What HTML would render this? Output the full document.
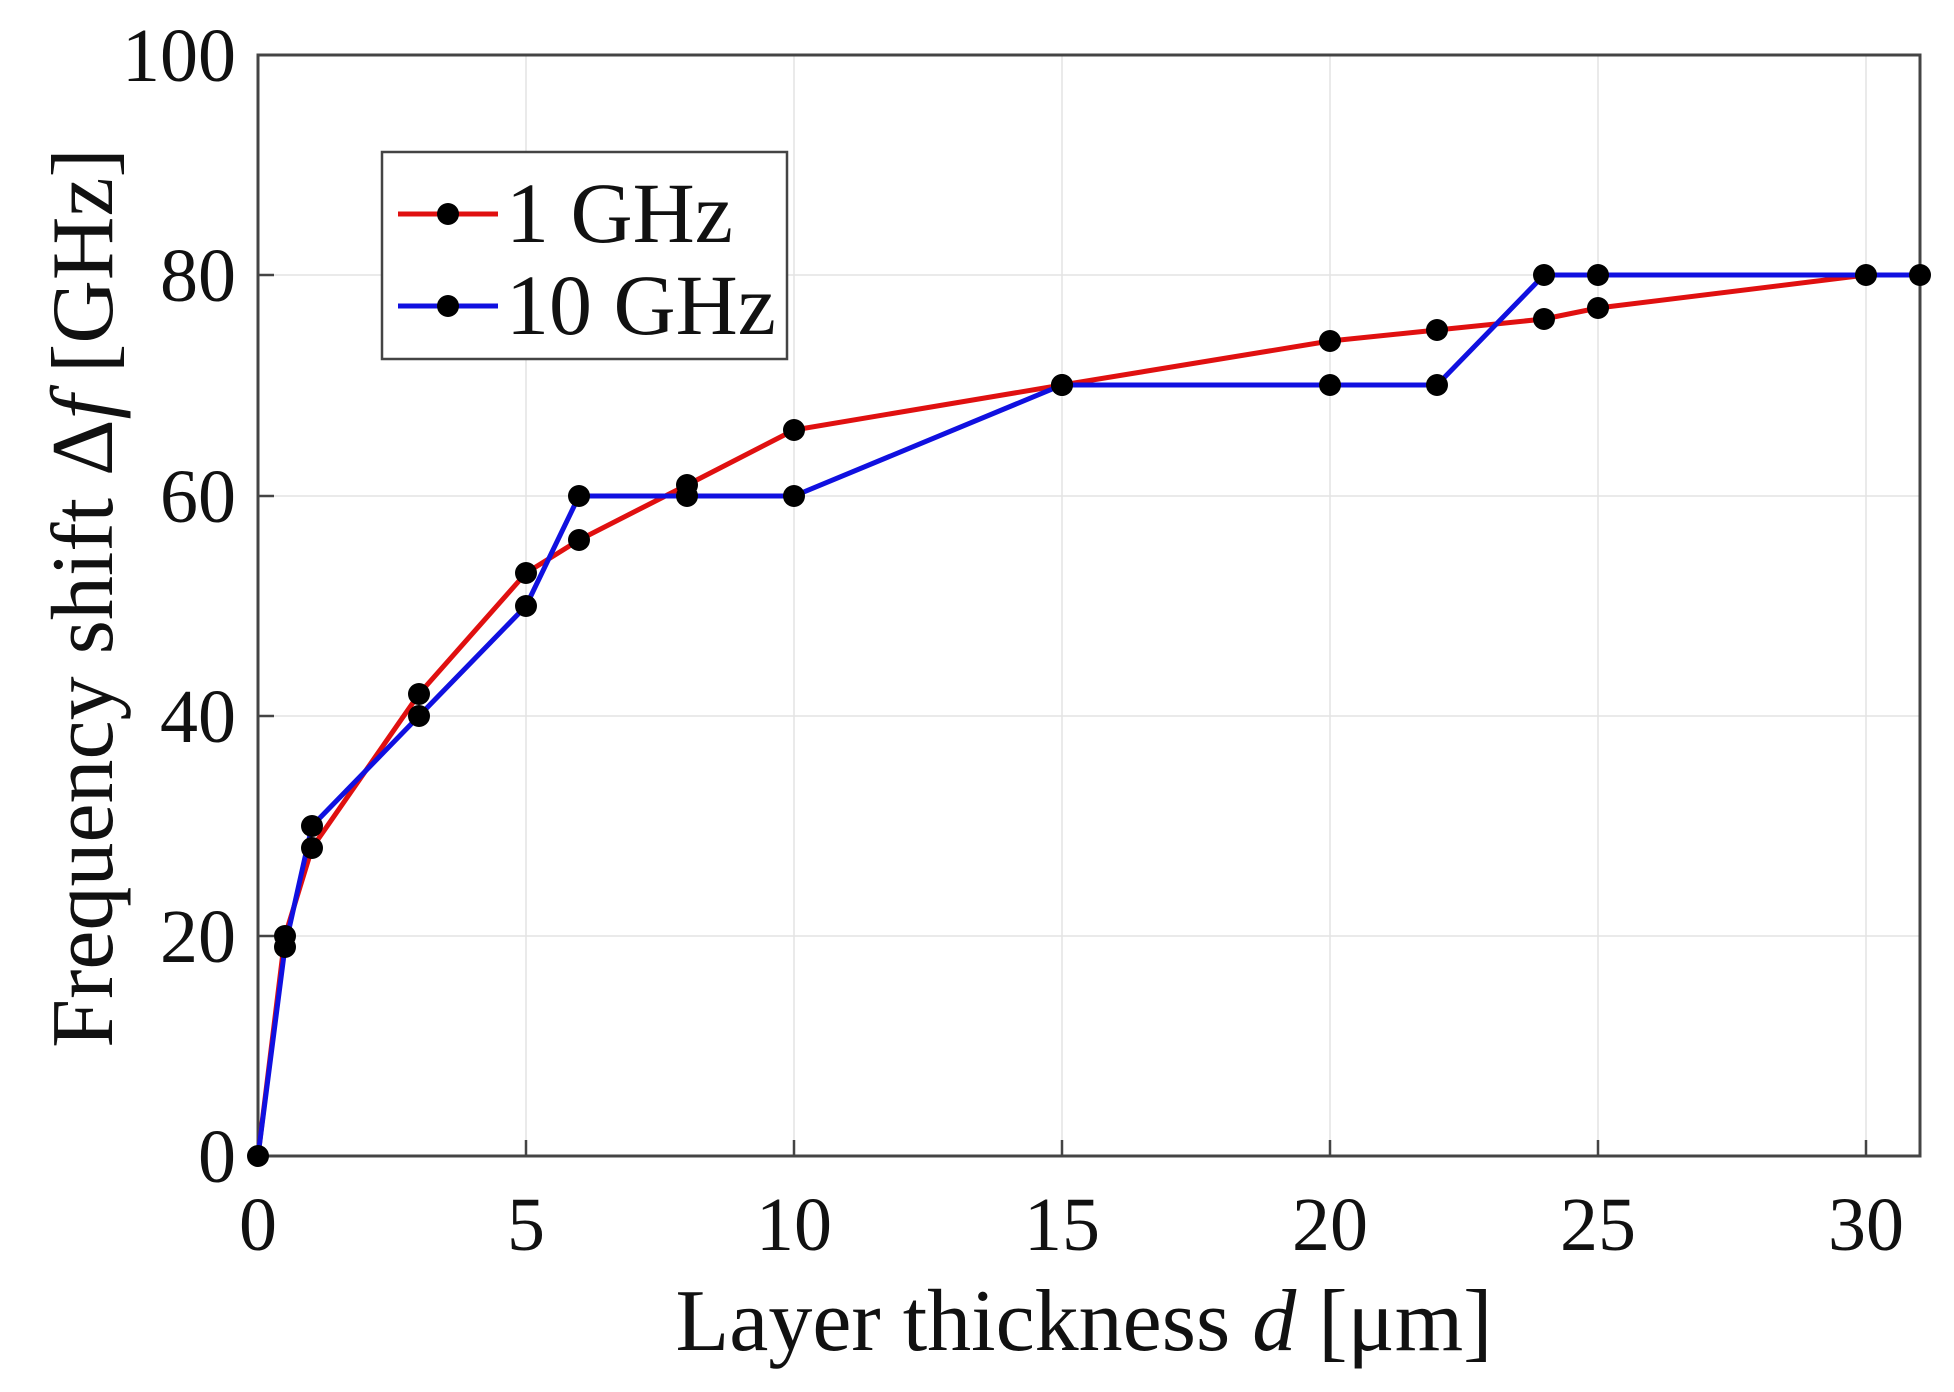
<!DOCTYPE html>
<html><head><style>html,body{margin:0;padding:0;background:#fff}</style></head><body>
<svg width="1954" height="1387" viewBox="0 0 1954 1387" xmlns="http://www.w3.org/2000/svg" font-family="Liberation Serif, serif">
<g stroke="#e3e3e3" stroke-width="1.5">
<line x1="526" y1="55" x2="526" y2="1156"/><line x1="794" y1="55" x2="794" y2="1156"/><line x1="1062" y1="55" x2="1062" y2="1156"/><line x1="1330" y1="55" x2="1330" y2="1156"/><line x1="1598" y1="55" x2="1598" y2="1156"/><line x1="1866" y1="55" x2="1866" y2="1156"/>
<line x1="258" y1="936" x2="1920" y2="936"/><line x1="258" y1="716" x2="1920" y2="716"/><line x1="258" y1="496" x2="1920" y2="496"/><line x1="258" y1="275" x2="1920" y2="275"/>
</g>
<rect x="258" y="55" width="1662" height="1101" fill="none" stroke="#444" stroke-width="3"/>
<g stroke="#444" stroke-width="2.5">
<line x1="526" y1="1156" x2="526" y2="1140"/><line x1="794" y1="1156" x2="794" y2="1140"/><line x1="1062" y1="1156" x2="1062" y2="1140"/><line x1="1330" y1="1156" x2="1330" y2="1140"/><line x1="1598" y1="1156" x2="1598" y2="1140"/><line x1="1866" y1="1156" x2="1866" y2="1140"/>
<line x1="258" y1="936" x2="274" y2="936"/><line x1="258" y1="716" x2="274" y2="716"/><line x1="258" y1="496" x2="274" y2="496"/><line x1="258" y1="275" x2="274" y2="275"/>
</g>
<g font-size="76" fill="#111" text-anchor="middle">
<text x="258" y="1250">0</text><text x="526" y="1250">5</text><text x="794" y="1250">10</text><text x="1062" y="1250">15</text><text x="1330" y="1250">20</text><text x="1598" y="1250">25</text><text x="1866" y="1250">30</text>
</g>
<g font-size="76" fill="#111" text-anchor="end">
<text x="236" y="1182">0</text><text x="236" y="962">20</text><text x="236" y="742">40</text><text x="236" y="522">60</text><text x="236" y="301">80</text><text x="236" y="81">100</text>
</g>
<text x="1084" y="1350" font-size="88" text-anchor="middle" fill="#111">Layer thickness <tspan font-style="italic">d</tspan> [μm]</text>
<text transform="translate(112,598) rotate(-90)" font-size="88" text-anchor="middle" fill="#111">Frequency shift Δ<tspan font-style="italic">f</tspan> [GHz]</text>
<polyline fill="none" stroke="#e01010" stroke-width="5" points="258,1156 285,936 312,848 419,694 526,573 579,540 687,485 794,430 1062,385 1330,341 1437,330 1544,319 1598,308 1866,275 1920,275"/>
<polyline fill="none" stroke="#1010e0" stroke-width="5" points="258,1156 285,947 312,826 419,716 526,606 579,496 687,496 794,496 1062,385 1330,385 1437,385 1544,275 1598,275 1866,275 1920,275"/>
<g fill="#000">
<circle cx="258" cy="1156" r="11"/><circle cx="285" cy="936" r="11"/><circle cx="312" cy="848" r="11"/><circle cx="419" cy="694" r="11"/><circle cx="526" cy="573" r="11"/><circle cx="579" cy="540" r="11"/><circle cx="687" cy="485" r="11"/><circle cx="794" cy="430" r="11"/><circle cx="1062" cy="385" r="11"/><circle cx="1330" cy="341" r="11"/><circle cx="1437" cy="330" r="11"/><circle cx="1544" cy="319" r="11"/><circle cx="1598" cy="308" r="11"/><circle cx="1866" cy="275" r="11"/><circle cx="1920" cy="275" r="11"/>
<circle cx="285" cy="947" r="11"/><circle cx="312" cy="826" r="11"/><circle cx="419" cy="716" r="11"/><circle cx="526" cy="606" r="11"/><circle cx="579" cy="496" r="11"/><circle cx="687" cy="496" r="11"/><circle cx="794" cy="496" r="11"/><circle cx="1062" cy="385" r="11"/><circle cx="1330" cy="385" r="11"/><circle cx="1437" cy="385" r="11"/><circle cx="1544" cy="275" r="11"/><circle cx="1598" cy="275" r="11"/>
</g>
<rect x="382" y="152" width="405" height="207" fill="#fff" stroke="#444" stroke-width="2.5"/>
<line x1="398" y1="214" x2="498" y2="214" stroke="#e01010" stroke-width="5"/><circle cx="448" cy="214" r="11"/>
<line x1="398" y1="306" x2="498" y2="306" stroke="#1010e0" stroke-width="5"/><circle cx="448" cy="306" r="11"/>
<text x="506" y="242" font-size="86" fill="#111">1 GHz</text>
<text x="506" y="334" font-size="86" fill="#111">10 GHz</text>
</svg>
</body></html>
